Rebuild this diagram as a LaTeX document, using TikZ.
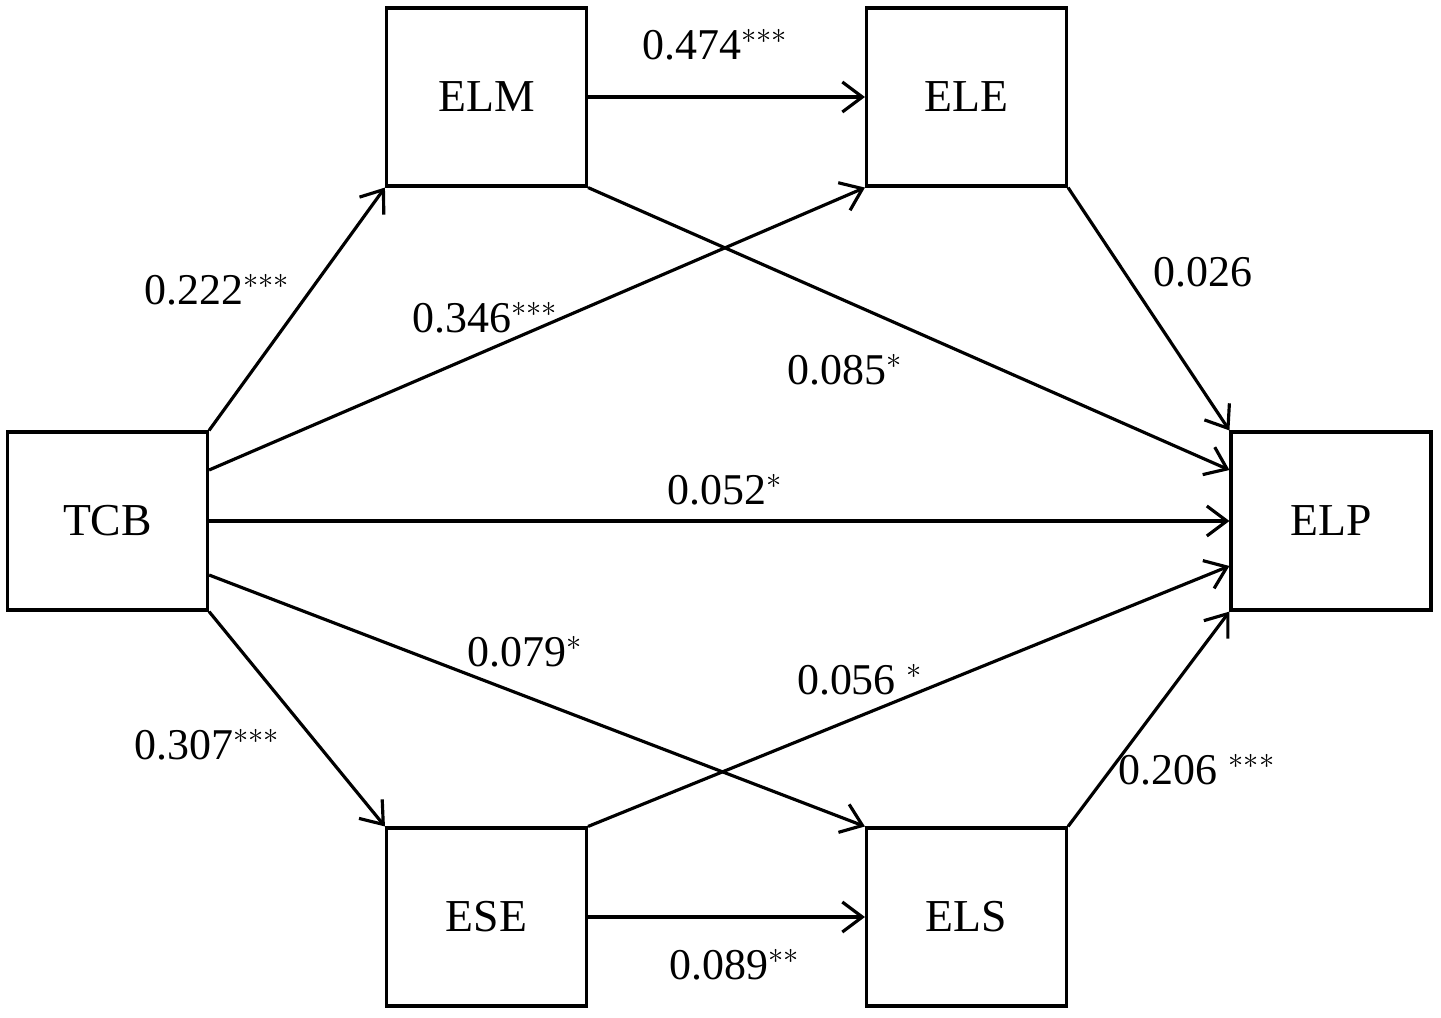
\documentclass[tikz,border=0pt]{standalone}
\usepackage{fontspec}
\setmainfont{Liberation Serif}
\usetikzlibrary{arrows.meta}
\begin{document}
\begin{tikzpicture}[x=0.02cm,y=-0.02cm,
  box/.style={draw,line width=1.8pt,minimum width=4cm,minimum height=3.56cm,inner sep=0pt,font=\fontsize{26}{30}\selectfont},
  lab/.style={font=\fontsize{25}{29}\selectfont,inner sep=0pt},
  arr/.style={line width=1.8pt,-{Straight Barb[length=4mm,width=6mm,line width=1.8pt]}}]
\useasboundingbox (0,0) rectangle (1441,1018);
\node[box] (tcb) at (107.5,521) {TCB};
\node[box] (elm) at (486.5,97) {ELM};
\node[box] (ele) at (966.5,97) {ELE};
\node[box] (elp) at (1331,521) {ELP};
\node[box] (ese) at (486.5,917) {ESE};
\node[box] (els) at (966.5,917) {ELS};
\draw[arr] (tcb.north east) -- (elm.south west);
\draw[arr] ([yshift=1.02cm]tcb.east) -- (ele.south west);
\draw[arr] (tcb.east) -- (elp.west);
\draw[arr] ([yshift=-1.08cm]tcb.east) -- (els.north west);
\draw[arr] (tcb.south east) -- (ese.north west);
\draw[arr] (elm.east) -- (ele.west);
\draw[arr] (elm.south east) -- ([yshift=1.02cm]elp.west);
\draw[arr] (ele.south east) -- (elp.north west);
\draw[arr] (ese.north east) -- ([yshift=-0.9cm]elp.west);
\draw[arr] (ese.east) -- (els.west);
\draw[arr] (els.north east) -- (elp.south west);
\node[lab] (l1) at (715,45) {0.474$^{***}$};
\node[lab] (l2) at (217,290) {0.222$^{***}$};
\node[lab] (l3) at (485,318) {0.346$^{***}$};
\node[lab] (l4) at (845,370) {0.085$^{*}$};
\node[lab] (l5) at (1203,272) {0.026};
\node[lab] (l6) at (725,490) {0.052$^{*}$};
\node[lab] (l7) at (525,652) {0.079$^{*}$};
\node[lab] (l8) at (860,680) {0.056 $^{*}$};
\node[lab] (l9) at (207,745) {0.307$^{***}$};
\node[lab] (l10) at (1197,770) {0.206 $^{***}$};
\node[lab] (l11) at (735,965) {0.089$^{**}$};
\end{tikzpicture}
\end{document}
